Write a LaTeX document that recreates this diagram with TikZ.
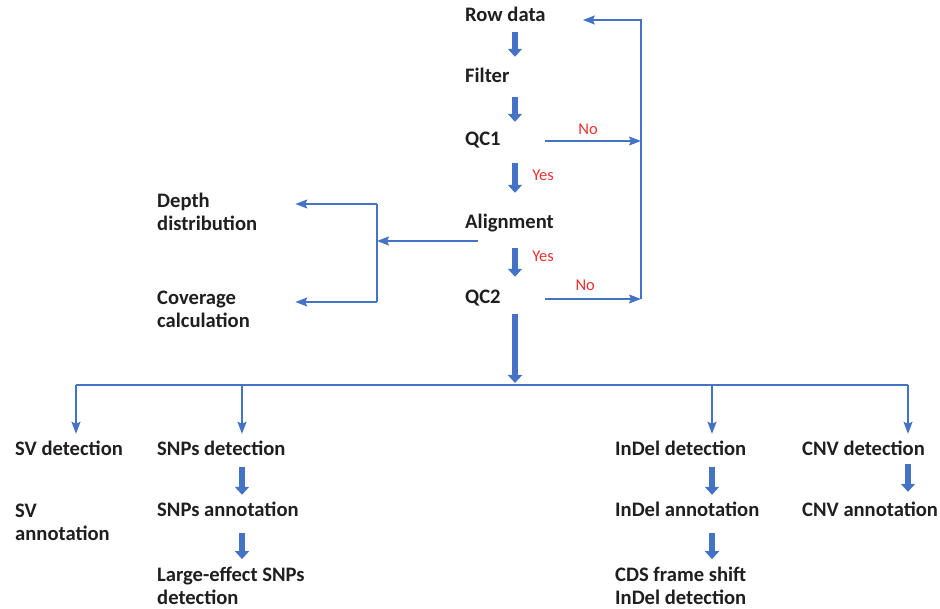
\documentclass[tikz,border=0pt]{standalone}
\usepackage{fontspec}
\setmainfont{Carlito}
\usetikzlibrary{arrows.meta}

\definecolor{arrblue}{RGB}{68,114,196}
\definecolor{ansred}{RGB}{236,48,48}

\tikzset{
  lbl/.style={anchor=west, inner sep=0pt, align=left, text=black!88,
    font=\bfseries\fontsize{20.6}{22.8}\selectfont},
  one/.style={text height=14pt, text depth=4pt},
  ans/.style={text=ansred, inner sep=0pt, font=\fontsize{16.5}{18}\selectfont},
  wire/.style={draw=arrblue, line width=1.6pt},
  flow/.style={wire, -{Stealth[length=12pt,width=9pt,inset=2pt]}},
  blockarr/.style={draw=arrblue, line width=6.5pt, -{Triangle[length=8pt,width=14pt]}}
}

\begin{document}
\begin{tikzpicture}[x=1pt, y=-1pt]
  \useasboundingbox (0,0) rectangle (940,609);

  % helper coordinates
  \coordinate (spine) at (515,0);
  \coordinate (loop) at (641,0);
  \coordinate (alnout) at (478,241);
  \coordinate (split) at (377,241);
  \coordinate (branchtop) at (377,204);
  \coordinate (branchbot) at (377,302);
  \coordinate (tapsv) at (76,385);
  \coordinate (tapsnp) at (242,385);
  \coordinate (tapindel) at (712,385);
  \coordinate (tapcnv) at (908,385);

  % main pipeline
  \node[lbl, one] (rowdata) at (465,17) {Row data};
  \node[lbl, one] (filter) at (465,78) {Filter};
  \node[lbl, one] (qc1) at (465,141) {QC1};
  \node[lbl, one] (align) at (465,224) {Alignment};
  \node[lbl, one] (qc2) at (465,299) {QC2};

  % statistics
  \node[lbl] (depth) at (157,212) {Depth\\distribution};
  \node[lbl] (cover) at (157,309) {Coverage\\calculation};

  % variant calling
  \node[lbl, one] (svdet) at (15,451) {SV detection};
  \node[lbl] (svann) at (15,522) {SV\\annotation};
  \node[lbl, one] (snpdet) at (157,451) {SNPs detection};
  \node[lbl, one] (snpann) at (157,511) {SNPs annotation};
  \node[lbl] (snpbig) at (157,586) {Large-effect SNPs\\detection};
  \node[lbl, one] (indeldet) at (615,451) {InDel detection};
  \node[lbl, one] (indelann) at (615,511) {InDel annotation};
  \node[lbl] (cds) at (615,586) {CDS frame shift\\InDel detection};
  \node[lbl, one] (cnvdet) at (802,451) {CNV detection};
  \node[lbl, one] (cnvann) at (802,511) {CNV annotation};

  % block arrows on the spine
  \draw[blockarr, shorten <=6pt, shorten >=12pt] (rowdata.south -| spine) -- (filter.north -| spine);
  \draw[blockarr, shorten <=10pt, shorten >=10pt] (filter.south -| spine) -- (qc1.north -| spine);
  \draw[blockarr, shorten <=13pt, shorten >=22pt] (qc1.south -| spine) -- (align.north -| spine)
    node[ans, midway, anchor=west, xshift=14pt, yshift=7pt] {Yes};
  \draw[blockarr, shorten <=15pt, shorten >=13pt] (align.south -| spine) -- (qc2.north -| spine)
    node[ans, midway, anchor=west, xshift=14pt, yshift=5pt] {Yes};
  \draw[blockarr, shorten <=6pt, shorten >=2pt] (qc2.south -| spine) -- (spine |- tapsv);

  % failed QC goes back
  \draw[flow] ([xshift=44pt]qc1.east) -- (qc1.east -| loop)
    node[ans, pos=0.45, above=6pt] {No};
  \draw[flow] ([xshift=44pt]qc2.east) -- (qc2.east -| loop)
    node[ans, pos=0.42, above=8pt] {No};
  \draw[flow] (qc2.east -| loop) |- ([xshift=37pt, yshift=-3pt]rowdata.east);

  % alignment statistics
  \draw[flow] (alnout) -- (split);
  \draw[wire] (branchtop) -- (branchbot);
  \draw[flow, shorten >=38pt] (branchtop) -- (branchtop -| depth.east);
  \draw[flow, shorten >=38pt] (branchbot) -- (branchbot -| depth.east);

  % bus to the callers
  \draw[wire] (tapsv) -- (tapcnv);
  \draw[flow, shorten >=8pt] (tapsv) -- (tapsv |- svdet.north);
  \draw[flow, shorten >=8pt] (tapsnp) -- (tapsnp |- snpdet.north);
  \draw[flow, shorten >=8pt] (tapindel) -- (tapindel |- indeldet.north);
  \draw[flow, shorten >=8pt] (tapcnv) -- (tapcnv |- cnvdet.north);

  % annotation steps
  \draw[blockarr, shorten <=7pt, shorten >=7pt] (snpdet.south -| tapsnp) -- (snpann.north -| tapsnp);
  \draw[blockarr, shorten <=13pt, shorten >=8pt] (snpann.south -| tapsnp) -- (snpbig.north -| tapsnp);
  \draw[blockarr, shorten <=7pt, shorten >=7pt] (indeldet.south -| tapindel) -- (indelann.north -| tapindel);
  \draw[blockarr, shorten <=13pt, shorten >=8pt] (indelann.south -| tapindel) -- (cds.north -| tapindel);
  \draw[blockarr, shorten <=4pt, shorten >=10pt] (cnvdet.south -| tapcnv) -- (cnvann.north -| tapcnv);
\end{tikzpicture}
\end{document}
